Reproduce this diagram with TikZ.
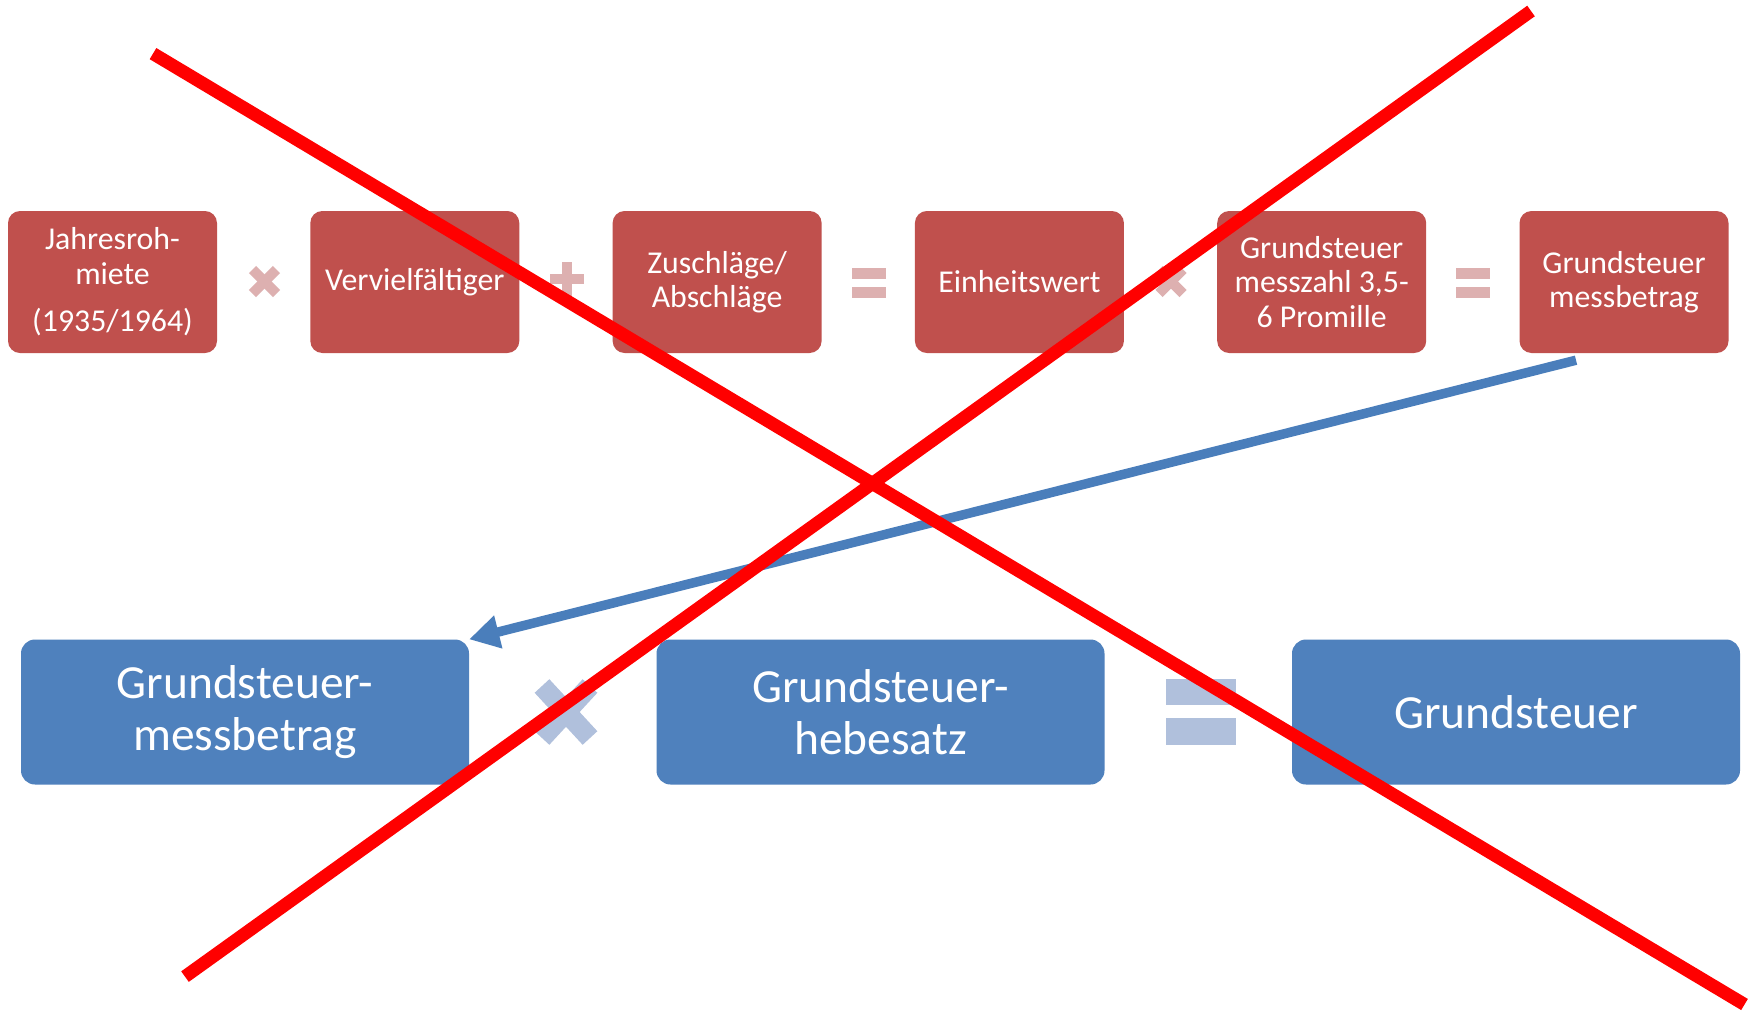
\documentclass[tikz,border=0pt]{standalone}
\usepackage{fontspec}
\setmainfont{Carlito}
\usetikzlibrary{arrows.meta,calc}
\definecolor{boxred}{RGB}{192,80,77}
\definecolor{boxblue}{RGB}{79,129,189}
\definecolor{opred}{RGB}{221,176,176}
\definecolor{opblue}{RGB}{176,192,220}
\definecolor{arrblue}{RGB}{74,126,187}
\tikzset{
  topbox/.style={rounded corners=12pt, fill=boxred, text=white, minimum width=209pt, minimum height=142pt, align=center, inner sep=0pt, font=\fontsize{31.8}{34.6}\selectfont},
  botbox/.style={rounded corners=14pt, fill=boxblue, text=white, minimum width=448pt, minimum height=145pt, align=center, inner sep=0pt, font=\fontsize{47.5}{52.5}\selectfont},
  crossline/.style={draw=red, line width=13pt},
  linkarrow/.style={draw=arrblue, line width=9.5pt, -{Triangle[length=30pt,width=32pt]}},
}
\newcommand{\optimes}[4]{% x y half-size width colour
  \draw[#4, line width=10pt] ($(#1,#2)+(-12,-12)$) -- ($(#1,#2)+(12,12)$);
  \draw[#4, line width=10pt] ($(#1,#2)+(-12,12)$) -- ($(#1,#2)+(12,-12)$);}
\newcommand{\opplus}[3]{%
  \fill[#3] ($(#1,#2)+(-17,-5)$) rectangle ($(#1,#2)+(17,5)$);
  \fill[#3] ($(#1,#2)+(-5,-17)$) rectangle ($(#1,#2)+(5,17)$);}
\newcommand{\opeq}[3]{%
  \fill[#3] ($(#1,#2)+(-17,-14.5)$) rectangle ($(#1,#2)+(17,-3.5)$);
  \fill[#3] ($(#1,#2)+(-17,4.5)$) rectangle ($(#1,#2)+(17,15.5)$);}
\begin{document}
\begin{tikzpicture}[x=1pt,y=-1pt]
\useasboundingbox (0,0) rectangle (1750,1012);
\fill[white] (0,0) rectangle (1750,1012);
% top row
\node[topbox] (b1) at (112.5,282) {Jahresroh-\\miete\\[13pt](1935/1964)};
\node[topbox] (b2) at (414.8,282) {Vervielfältiger};
\node[topbox] (b3) at (717.1,282) {Zuschläge/\\Abschläge};
\node[topbox] (b4) at (1019.4,282) {Einheitswert};
\node[topbox] (b5) at (1321.7,282) {Grundsteuer\\messzahl 3,5-\\6 Promille};
\node[topbox] (b6) at (1624,282) {Grundsteuer\\messbetrag};
% top operators
\optimes{264.5}{281.5}{}{opred}
\opplus{567}{279}{opred}
\opeq{869}{282}{opred}
\optimes{1171}{281.5}{}{opred}
\opeq{1473}{282}{opred}
% bottom row
\node[botbox] (c1) at (245,712) {Grundsteuer-\\messbetrag};
\node[botbox] (c2) at (880.5,712) {Grundsteuer-\\hebesatz};
\node[botbox] (c3) at (1516,712) {Grundsteuer};
% bottom operators
\draw[opblue, line width=20pt] (542,686) -- (590,738);
\draw[opblue, line width=20pt] (542,738) -- (590,686);
\fill[opblue] (1166,679) rectangle (1236,705);
\fill[opblue] (1166,718) rectangle (1236,745);
% arrow
\coordinate (arrs) at ($(b6.south)+(-48,7)$);
\draw[linkarrow] (arrs) -- (c1.north east);
% cross-out lines
\coordinate (x1a) at (153,53.6);
\coordinate (x1b) at (1744.5,1004.5);
\coordinate (x2a) at (1531,11);
\coordinate (x2b) at (185,976.6);
\draw[crossline] (x1a) -- (x1b);
\draw[crossline] (x2a) -- (x2b);
\end{tikzpicture}
\end{document}
